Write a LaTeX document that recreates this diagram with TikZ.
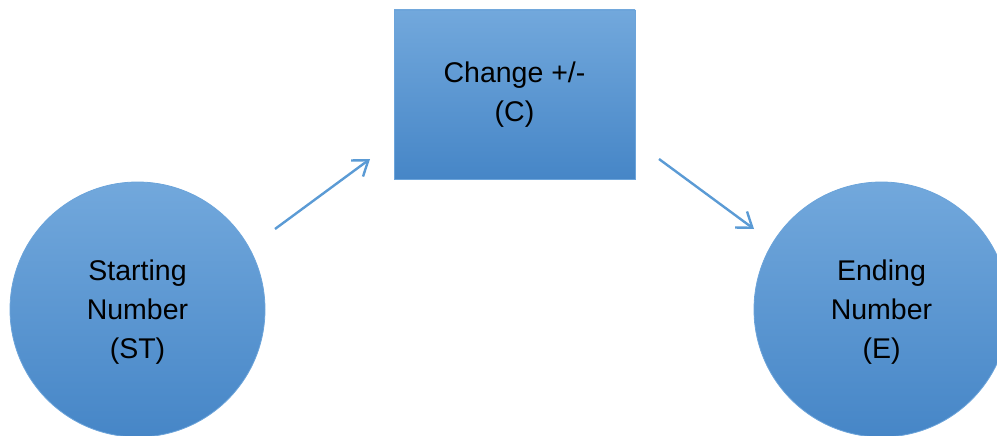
\documentclass[tikz,border=0pt]{standalone}
\usepackage{fontspec}
\setmainfont{Liberation Sans}
\usetikzlibrary{arrows.meta}
\definecolor{topblue}{HTML}{72A8DC}
\definecolor{botblue}{HTML}{4686C7}
\definecolor{edgeblue}{HTML}{6CA4DA}
\definecolor{arrowblue}{HTML}{5B9BD5}
\tikzset{
  shape box/.style={draw=edgeblue, line width=0.8pt, top color=topblue, bottom color=botblue,
    align=center, font=\fontsize{28.5}{39}\selectfont, text=black},
  circ/.style={shape box, circle, minimum size=255pt, inner sep=0pt, text depth=-6pt},
  rectbox/.style={shape box, rectangle, minimum width=241pt, minimum height=169pt, inner sep=0pt},
  conn/.style={arrowblue, line width=2.4pt, -{Straight Barb[length=14pt,width=20pt,line width=2.4pt]}}
}
\begin{document}
\begin{tikzpicture}[x=1pt,y=1pt]
\useasboundingbox (0,0) rectangle (997,-436);
\begin{scope}
\clip (0,0) rectangle (997,-436);
\node[circ] (st) at (137.5,-309.5) {Starting\\Number\\(ST)};
\node[circ] (e) at (881.5,-309.5) {Ending\\Number\\(E)};
\end{scope}
\node[rectbox] (c) at (514.5,-94.5) {Change +/-\\(C)};
\coordinate (a1s) at (275,-229);
\coordinate (a1e) at (370,-159);
\coordinate (a2s) at (659,-159);
\coordinate (a2e) at (754,-229);
\draw[conn] (a1s) -- (a1e);
\draw[conn] (a2s) -- (a2e);
\end{tikzpicture}
\end{document}
